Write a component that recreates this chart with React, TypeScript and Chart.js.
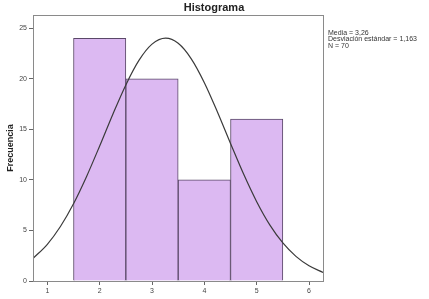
import React, { useEffect, useRef } from "react";
import { Chart, registerables } from "chart.js";

Chart.register(...registerables);

const binCenters = [2, 3, 4, 5];
const frequencies = [24, 20, 10, 16];
const curveX = [0.73, 1, 1.25, 1.5, 1.75, 2, 2.25, 2.5, 2.75, 3, 3.26, 3.5, 3.75, 4, 4.25, 4.5, 4.75, 5, 5.25, 5.5, 5.75, 6, 6.27];
const curveY = [2.25, 3.63, 5.39, 7.64, 10.34, 13.35, 16.47, 19.39, 21.81, 23.42, 24.01, 23.5, 21.97, 19.61, 16.71, 13.6, 10.57, 7.84, 5.55, 3.76, 2.43, 1.5, 0.84];
const xTicks = [1, 2, 3, 4, 5, 6];
const yTicks = [0, 5, 10, 15, 20, 25];
const titleText = "Histograma";
const statsLines = ["Media = 3,26", "Desviación estándar = 1,163", "N = 70"];

const overlay = {
  id: "overlay",
  afterDraw(chart: any) {
    const { ctx, chartArea } = chart;
    ctx.save();
    ctx.strokeStyle = "#8a8a8a";
    ctx.lineWidth = 1;
    ctx.strokeRect(chartArea.left + 0.5, chartArea.top + 0.5, chartArea.right - chartArea.left, chartArea.bottom - chartArea.top);
    ctx.fillStyle = "#222";
    ctx.font = "bold 11px 'Liberation Sans', Arial, sans-serif";
    ctx.textAlign = "center";
    ctx.textBaseline = "middle";
    ctx.fillText(titleText, 214, 8);
    ctx.font = "7px 'Liberation Sans', Arial, sans-serif";
    ctx.textAlign = "left";
    ctx.fillStyle = "#333";
    statsLines.forEach((s, i) => ctx.fillText(s, chartArea.right + 5, 33 + i * 6.3));
    ctx.restore();
  },
};

export default function App() {
  const ref = useRef<HTMLCanvasElement>(null);
  useEffect(() => {
    document.body.style.margin = "0";
    const chart = new Chart(ref.current!, {
      type: "bar",
      data: {
        datasets: [
          {
            type: "line",
            data: curveX.map((x, i) => ({ x, y: curveY[i] })),
            borderColor: "#3a3a3a",
            borderWidth: 1.2,
            pointRadius: 0,
            cubicInterpolationMode: "monotone",
            fill: false,
            order: 0,
          } as any,
          {
            type: "bar",
            data: binCenters.map((x, i) => ({ x, y: frequencies[i] })),
            backgroundColor: "#dcb9f2",
            borderColor: "#5a4868",
            borderWidth: 1,
            categoryPercentage: 1,
            barPercentage: 1,
            order: 1,
          } as any,
        ],
      },
      options: {
        animation: false,
        responsive: false,
        layout: { padding: { top: 15, right: 106, left: 5, bottom: 0 } },
        plugins: { legend: { display: false }, tooltip: { enabled: false }, title: { display: false } },
        scales: {
          x: {
            type: "linear",
            offset: false,
            min: 0.726,
            max: 6.267,
            afterFit: (s: any) => { s.height = 18; },
            afterBuildTicks: (s: any) => { s.ticks = xTicks.map((v) => ({ value: v })); },
            grid: { offset: false, drawOnChartArea: false, drawTicks: true, tickLength: 4, color: "#666" },
            border: { color: "#8a8a8a" },
            ticks: { color: "#444", font: { size: 7, family: "'Liberation Sans', Arial, sans-serif" }, padding: 2 },
          },
          y: {
            min: 0,
            max: 26.3,
            afterFit: (s: any) => { s.width = 28; },
            afterBuildTicks: (s: any) => { s.ticks = yTicks.map((v) => ({ value: v })); },
            grid: { drawOnChartArea: false, drawTicks: true, tickLength: 4, color: "#666" },
            border: { color: "#8a8a8a" },
            ticks: { color: "#444", font: { size: 7, family: "'Liberation Sans', Arial, sans-serif" }, padding: 2 },
            title: { display: true, text: "Frecuencia", color: "#222", font: { size: 9, weight: "bold", family: "'Liberation Sans', Arial, sans-serif" }, padding: { top: 0, bottom: 0 } },
          },
        },
      },
      plugins: [overlay],
    });
    return () => chart.destroy();
  }, []);
  return <canvas ref={ref} width={429} height={299} style={{ display: "block" }} />;
}
